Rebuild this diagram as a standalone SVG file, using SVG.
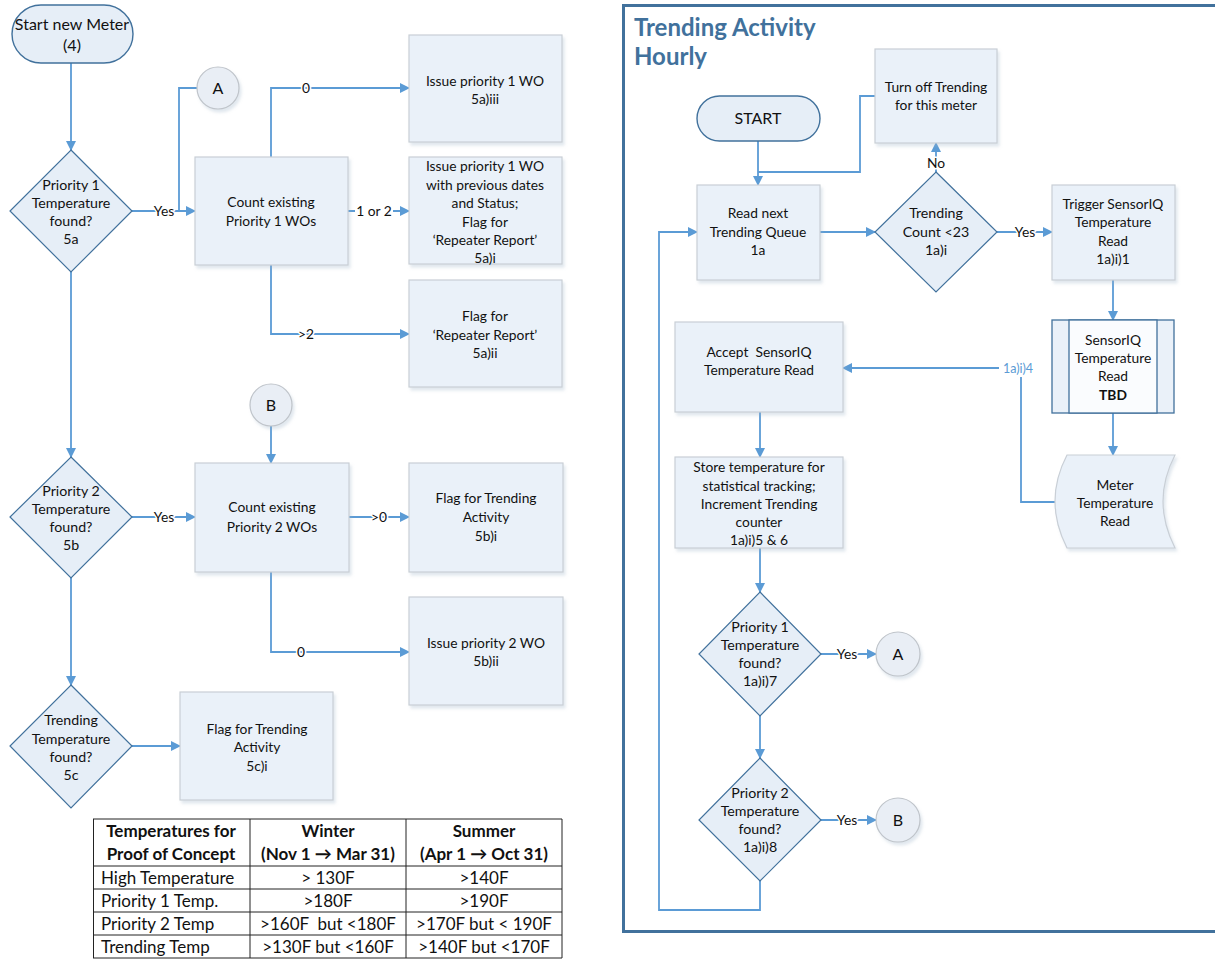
<svg xmlns="http://www.w3.org/2000/svg" width="1215" height="959" viewBox="0 0 1215 959">
<defs>
<marker id="arr" markerWidth="10" markerHeight="10" refX="9" refY="5" orient="auto" markerUnits="userSpaceOnUse">
<path d="M0,0 L10,5 L0,10 Z" fill="#5B9BD5"/>
</marker>
<filter id="sh" x="-10%" y="-10%" width="130%" height="130%">
<feDropShadow dx="2" dy="3" stdDeviation="1.5" flood-color="#9BB0C8" flood-opacity="0.3"/>
</filter>
<style>
.box{fill:#EAF1F9;stroke:#C9CFD6;stroke-width:1.2;filter:url(#sh)}
.dia{fill:#E6EEF7;stroke:#41719C;stroke-width:1.2}
.ter{fill:#E6EEF7;stroke:#41719C;stroke-width:1.4}
.cir{fill:#E9EEF5;stroke:#BFC4CA;stroke-width:1.2;filter:url(#sh)}
.t{font-family:Lato,"Liberation Sans",sans-serif;font-size:13.8px;fill:#111;text-anchor:middle;white-space:pre}
.d{font-size:14.2px}
.big{font-size:16px}
.lbl{font-family:Lato,"Liberation Sans",sans-serif;font-size:13.8px;fill:#111;text-anchor:middle;stroke:#fff;stroke-width:3;paint-order:stroke;stroke-linejoin:round}
.c{fill:none;stroke:#5B9BD5;stroke-width:1.8}
.ca{fill:none;stroke:#5B9BD5;stroke-width:1.8;marker-end:url(#arr)}
.tb{font-family:Lato,"Liberation Sans",sans-serif;font-size:17px;fill:#111;white-space:pre}
.tbh{font-weight:bold;text-anchor:middle}
.tl{fill:none;stroke:#222;stroke-width:1}
.title{font-family:Lato,"Liberation Sans",sans-serif;font-size:24px;font-weight:bold;fill:#41719C}
</style>
</defs>
<rect width="1215" height="959" fill="#fff"/>

<g id="panel">
<rect x="623.5" y="5.5" width="610" height="926" fill="none" stroke="#41719C" stroke-width="3"/>
<text class="title" x="634" y="36">Trending Activity</text>
<text class="title" x="634" y="65">Hourly</text>
</g>

<g id="connectors">
<path class="ca" d="M71,63 V150"/>
<path class="ca" d="M132,211 H195"/>
<path class="c" d="M197,88 H179 V211"/>
<path class="ca" d="M271,157 V88 H409"/>
<path class="ca" d="M348,211 H409"/>
<path class="ca" d="M271,265 V334 H409"/>
<path class="ca" d="M71,272 V457"/>
<path class="ca" d="M271,426 V463"/>
<path class="ca" d="M132,517 H195"/>
<path class="ca" d="M349,517 H409"/>
<path class="ca" d="M271,572 V652 H409"/>
<path class="ca" d="M71,578 V685"/>
<path class="ca" d="M132,746 H180"/>
<text class="lbl" x="164" y="216">Yes</text>
<text class="lbl" x="306" y="93">0</text>
<rect x="355" y="203" width="38" height="16" fill="#fff"/>
<text class="lbl" x="374" y="216">1 or 2</text>
<text class="lbl" x="306" y="339">&gt;2</text>
<text class="lbl" x="164" y="522">Yes</text>
<text class="lbl" x="379" y="522">&gt;0</text>
<text class="lbl" x="301" y="657">0</text>

<path class="ca" d="M758,141 V185"/>
<path class="c" d="M875,96 H860 V172 H758"/>
<path class="ca" d="M820,232 H875"/>
<path class="ca" d="M936,172 V143"/>
<path class="ca" d="M997,232 H1052"/>
<path class="ca" d="M1113,280 V320"/>
<path class="ca" d="M1113,413 V455"/>
<path class="c" d="M1056,502 H1021 V377"/>
<path class="ca" d="M999,368 H843"/>
<path class="ca" d="M760,412 V457"/>
<path class="ca" d="M760,548 V592"/>
<path class="ca" d="M821,654 H876"/>
<path class="ca" d="M760,716 V758"/>
<path class="ca" d="M821,820 H876"/>
<path class="ca" d="M760,881 V910 H659 V232 H697"/>
<text class="lbl" x="936" y="168">No</text>
<text class="lbl" x="1025" y="237">Yes</text>
<text class="lbl" x="847" y="659">Yes</text>
<text class="lbl" x="847" y="825">Yes</text>
<text x="1018" y="373" style="font-family:Lato,'Liberation Sans',sans-serif;font-size:12.5px;fill:#5B9BD5;text-anchor:middle">1a)i)4</text>
</g>

<g id="start-meter">
<rect class="ter" x="12" y="5" width="121" height="58" rx="29"/>
<text class="t" x="72" y="30" style="font-size:16px">Start new Meter</text>
<text class="t" x="72" y="51" style="font-size:16px">(4)</text>
</g>
<g id="dia-p1">
<path class="dia" d="M71,150 L132,211 L71,272 L10,211 Z"/>
<text class="t d" x="71" y="190">Priority 1</text>
<text class="t d" x="71" y="208">Temperature</text>
<text class="t d" x="71" y="226">found?</text>
<text class="t d" x="71" y="244">5a</text>
</g>
<g id="circle-a-left">
<circle class="cir" cx="218" cy="88" r="21"/>
<text class="t big" x="218" y="94">A</text>
</g>
<g id="count-p1">
<rect class="box" x="195" y="157" width="153" height="108"/>
<text class="t" x="271" y="207">Count existing</text>
<text class="t" x="271" y="226">Priority 1 WOs</text>
</g>
<g id="issue-p1">
<rect class="box" x="409" y="35" width="153" height="107"/>
<text class="t" x="485" y="86">Issue priority 1 WO</text>
<text class="t" x="485" y="104">5a)iii</text>
</g>
<g id="issue-p1-prev">
<rect class="box" x="409" y="157" width="153" height="107"/>
<text class="t" x="485" y="171">Issue priority 1 WO</text>
<text class="t" x="485" y="190">with previous dates</text>
<text class="t" x="485" y="208">and Status;</text>
<text class="t" x="485" y="227">Flag for</text>
<text class="t" x="485" y="245">‘Repeater Report’</text>
<text class="t" x="485" y="263">5a)i</text>
</g>
<g id="flag-repeater">
<rect class="box" x="409" y="280" width="153" height="107"/>
<text class="t" x="485" y="321">Flag for</text>
<text class="t" x="485" y="340">‘Repeater Report’</text>
<text class="t" x="485" y="358">5a)ii</text>
</g>
<g id="circle-b-left">
<circle class="cir" cx="271" cy="405" r="21"/>
<text class="t big" x="271" y="411">B</text>
</g>
<g id="dia-p2">
<path class="dia" d="M71,457 L132,517 L71,578 L10,517 Z"/>
<text class="t d" x="71" y="496">Priority 2</text>
<text class="t d" x="71" y="514">Temperature</text>
<text class="t d" x="71" y="532">found?</text>
<text class="t d" x="71" y="550">5b</text>
</g>
<g id="count-p2">
<rect class="box" x="195" y="463" width="154" height="109"/>
<text class="t" x="272" y="512">Count existing</text>
<text class="t" x="272" y="532">Priority 2 WOs</text>
</g>
<g id="flag-trend-5b">
<rect class="box" x="409" y="463" width="154" height="109"/>
<text class="t" x="486" y="503">Flag for Trending</text>
<text class="t" x="486" y="522">Activity</text>
<text class="t" x="486" y="541">5b)i</text>
</g>
<g id="issue-p2">
<rect class="box" x="409" y="597" width="154" height="108"/>
<text class="t" x="486" y="648">Issue priority 2 WO</text>
<text class="t" x="486" y="666">5b)ii</text>
</g>
<g id="dia-trend">
<path class="dia" d="M71,685 L132,746 L71,808 L10,746 Z"/>
<text class="t d" x="71" y="725">Trending</text>
<text class="t d" x="71" y="744">Temperature</text>
<text class="t d" x="71" y="762">found?</text>
<text class="t d" x="71" y="780">5c</text>
</g>
<g id="flag-trend-5c">
<rect class="box" x="180" y="692" width="153" height="108"/>
<text class="t" x="257" y="734">Flag for Trending</text>
<text class="t" x="257" y="752">Activity</text>
<text class="t" x="257" y="771">5c)i</text>
</g>

<g id="table">
<rect x="93" y="819" width="469" height="139" fill="#fff"/>
<path class="tl" d="M93,819 H562 M93,866 H562 M93,889 H562 M93,912 H562 M93,935 H562 M93,958 H562 M93.5,819 V958 M250,819 V958 M406,819 V958 M562,819 V958"/>
<text class="tb tbh" x="171" y="837">Temperatures for</text>
<text class="tb tbh" x="171" y="860">Proof of Concept</text>
<text class="tb tbh" x="328" y="837">Winter</text>
<text class="tb tbh" x="328" y="860">(Nov 1 → Mar 31)</text>
<text class="tb tbh" x="484" y="837">Summer</text>
<text class="tb tbh" x="484" y="860">(Apr 1 → Oct 31)</text>
<text class="tb" x="101" y="884">High Temperature</text>
<text class="tb" x="101" y="907">Priority 1 Temp.</text>
<text class="tb" x="101" y="930">Priority 2 Temp</text>
<text class="tb" x="101" y="953">Trending Temp</text>
<text class="tb" x="328" y="884" text-anchor="middle">&gt; 130F</text>
<text class="tb" x="328" y="907" text-anchor="middle">&gt;180F</text>
<text class="tb" x="328" y="930" text-anchor="middle">&gt;160F  but &lt;180F</text>
<text class="tb" x="328" y="953" text-anchor="middle">&gt;130F but &lt;160F</text>
<text class="tb" x="484" y="884" text-anchor="middle">&gt;140F</text>
<text class="tb" x="484" y="907" text-anchor="middle">&gt;190F</text>
<text class="tb" x="484" y="930" text-anchor="middle">&gt;170F but &lt; 190F</text>
<text class="tb" x="484" y="953" text-anchor="middle">&gt;140F but &lt;170F</text>
</g>

<g id="start">
<rect class="ter" x="697" y="96" width="123" height="45" rx="22.5"/>
<text class="t big" x="758" y="124">START</text>
</g>
<g id="turn-off">
<rect class="box" x="875" y="49" width="122" height="94"/>
<text class="t" x="936" y="92">Turn off Trending</text>
<text class="t" x="936" y="110">for this meter</text>
</g>
<g id="read-next">
<rect class="box" x="697" y="185" width="123" height="95"/>
<text class="t" x="758" y="218">Read next</text>
<text class="t" x="758" y="237">Trending Queue</text>
<text class="t" x="758" y="255">1a</text>
</g>
<g id="dia-count">
<path class="dia" d="M936,172 L997,232 L936,292 L875,232 Z"/>
<text class="t d" x="936" y="218">Trending</text>
<text class="t d" x="936" y="237">Count &lt;23</text>
<text class="t d" x="936" y="255">1a)i</text>
</g>
<g id="trigger">
<rect class="box" x="1052" y="185" width="123" height="95"/>
<text class="t" x="1113" y="209">Trigger SensorIQ</text>
<text class="t" x="1113" y="227">Temperature</text>
<text class="t" x="1113" y="246">Read</text>
<text class="t" x="1113" y="264">1a)i)1</text>
</g>
<g id="sensoriq">
<rect x="1052" y="320" width="122" height="93" fill="#EAF1F9" stroke="#41719C" stroke-width="1.3"/>
<rect x="1069" y="320" width="88" height="93" fill="#FAFCFE" stroke="#41719C" stroke-width="1.3"/>
<text class="t" x="1113" y="345">SensorIQ</text>
<text class="t" x="1113" y="363">Temperature</text>
<text class="t" x="1113" y="381">Read</text>
<text class="t" x="1113" y="400" font-weight="bold">TBD</text>
</g>
<g id="meter-read">
<path d="M1067,455 H1175 Q1151,501 1175,548 H1067 Q1043,501 1067,455 Z" fill="#EAF1F9" stroke="#C9CFD6" stroke-width="1.2" filter="url(#sh)"/>
<text class="t" x="1115" y="490">Meter</text>
<text class="t" x="1115" y="508">Temperature</text>
<text class="t" x="1115" y="526">Read</text>
</g>
<g id="accept">
<rect class="box" x="675" y="322" width="168" height="90"/>
<text class="t" x="759" y="357">Accept  SensorIQ</text>
<text class="t" x="759" y="375">Temperature Read</text>
</g>
<g id="store">
<rect class="box" x="675" y="457" width="168" height="91"/>
<text class="t" x="759" y="472">Store temperature for</text>
<text class="t" x="759" y="491">statistical tracking;</text>
<text class="t" x="759" y="509">Increment Trending</text>
<text class="t" x="759" y="527">counter</text>
<text class="t" x="759" y="545">1a)i)5 &amp; 6</text>
</g>
<g id="dia-p1-right">
<path class="dia" d="M760,592 L821,654 L760,716 L699,654 Z"/>
<text class="t d" x="760" y="632">Priority 1</text>
<text class="t d" x="760" y="650">Temperature</text>
<text class="t d" x="760" y="668">found?</text>
<text class="t d" x="760" y="686">1a)i)7</text>
</g>
<g id="circle-a-right">
<circle class="cir" cx="898" cy="654" r="22"/>
<text class="t big" x="898" y="660">A</text>
</g>
<g id="dia-p2-right">
<path class="dia" d="M760,758 L821,820 L760,881 L699,820 Z"/>
<text class="t d" x="760" y="798">Priority 2</text>
<text class="t d" x="760" y="816">Temperature</text>
<text class="t d" x="760" y="834">found?</text>
<text class="t d" x="760" y="852">1a)i)8</text>
</g>
<g id="circle-b-right">
<circle class="cir" cx="898" cy="820" r="22"/>
<text class="t big" x="898" y="826">B</text>
</g>
</svg>
